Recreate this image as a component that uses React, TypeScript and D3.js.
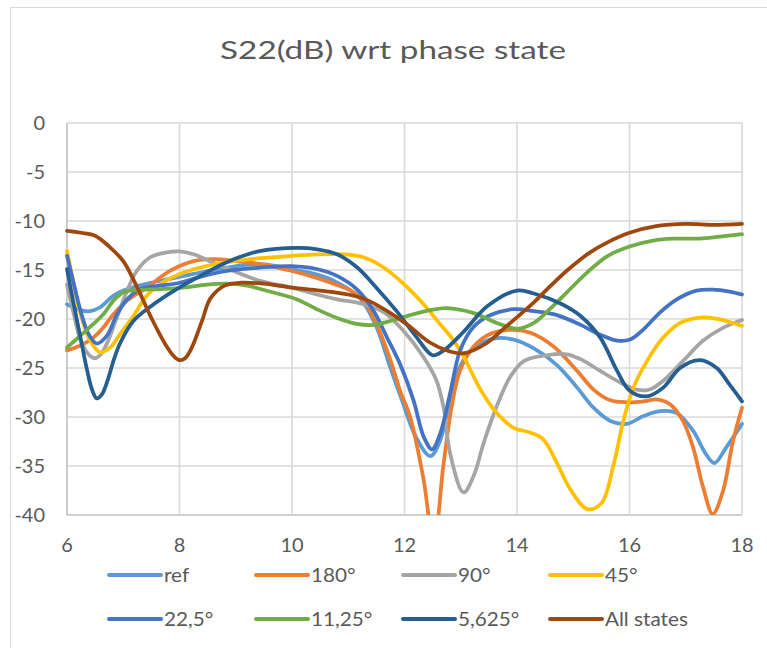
import React from "react";
import * as d3 from "d3";

type Pt = [number, number];

const seriesNames = ["ref", "180°", "90°", "45°", "22,5°", "11,25°", "5,625°", "All states"];
const seriesColors = ["#5B9BD5", "#ED7D31", "#A5A5A5", "#FFC000", "#4472C4", "#70AD47", "#255E91", "#9E480E"];

const refData: Pt[] = [
  [6.0, -18.5], [6.24, -19.1], [6.41, -19.2], [6.59, -18.8], [6.83, -17.6], [7.07, -16.95], [7.42, -16.4],
  [7.83, -15.9], [8.25, -15.4], [8.84, -14.75], [9.43, -14.4], [10.0, -14.9], [10.4, -15.4], [10.74, -16.1],
  [11.2, -17.8], [11.5, -20.8], [11.75, -25.0], [11.95, -28.2], [12.2, -32.0], [12.46, -34.0], [12.64, -32.3],
  [12.81, -28.2], [12.99, -24.8], [13.23, -23.0], [13.58, -22.0], [13.94, -22.1], [14.3, -23.0], [14.71, -24.7],
  [15.07, -27.0], [15.36, -29.05], [15.66, -30.4], [15.95, -30.7], [16.25, -29.9], [16.54, -29.4], [16.84, -29.6],
  [17.13, -31.4], [17.36, -33.8], [17.51, -34.7], [17.72, -33.1], [18.0, -30.7],
];

const deg180Data: Pt[] = [
  [6.0, -23.2], [6.24, -22.7], [6.47, -21.9], [6.65, -20.85], [6.83, -19.5], [7.07, -18.1], [7.42, -16.8],
  [7.83, -15.1], [8.25, -14.1], [8.6, -13.9], [9.02, -14.1], [9.43, -14.4], [10.0, -15.1], [10.44, -15.8],
  [10.74, -16.4], [11.04, -17.1], [11.27, -18.1], [11.5, -20.5], [11.75, -24.2], [11.92, -27.3], [12.1, -30.0],
  [12.34, -36.4], [12.52, -43], [12.69, -35.0], [12.84, -28.9], [12.99, -25.2], [13.23, -22.8], [13.53, -21.5],
  [13.94, -21.1], [14.24, -21.4], [14.65, -22.8], [15.07, -25.3], [15.36, -27.2], [15.66, -28.3], [15.95, -28.5],
  [16.25, -28.4], [16.48, -28.2], [16.72, -28.7], [16.95, -30.4], [17.13, -33.1], [17.31, -37.2], [17.48, -39.9],
  [17.66, -37.6], [17.84, -32.45], [18.0, -29.05],
];

const deg90Data: Pt[] = [
  [6.0, -16.5], [6.12, -19.5], [6.25, -22.3], [6.4, -23.7], [6.5, -24.0], [6.6, -23.6], [6.71, -22.5],
  [6.89, -19.8], [7.07, -17.1], [7.24, -15.1], [7.48, -13.7], [7.78, -13.2], [8.0, -13.1], [8.25, -13.4],
  [8.54, -14.1], [8.96, -15.1], [9.43, -16.1], [10.0, -16.8], [10.44, -17.5], [10.8, -18.0], [11.21, -18.4],
  [11.63, -19.3], [11.98, -21.2], [12.34, -23.9], [12.57, -26.3], [12.7, -29.2], [12.81, -33.7], [13.05, -37.7],
  [13.23, -36.0], [13.41, -32.6], [13.64, -28.9], [13.88, -25.9], [14.12, -24.3], [14.53, -23.7], [14.89, -23.6],
  [15.13, -24.1], [15.48, -25.3], [15.84, -26.5], [16.13, -27.2], [16.36, -27.2], [16.6, -26.3], [16.95, -24.3],
  [17.31, -22.2], [17.66, -20.9], [18.0, -20.1],
];

const deg45Data: Pt[] = [
  [6.0, -13.05], [6.12, -16.4], [6.24, -19.5], [6.41, -22.2], [6.59, -23.4], [6.77, -22.9], [6.95, -21.5],
  [7.18, -19.7], [7.42, -17.6], [7.66, -16.4], [8.01, -15.4], [8.37, -14.75], [8.84, -14.2], [9.43, -13.8],
  [10.0, -13.55], [10.44, -13.4], [10.92, -13.4], [11.27, -13.7], [11.63, -14.75], [11.98, -16.4], [12.34, -18.5],
  [12.63, -20.5], [12.85, -22.0], [13.05, -23.8], [13.35, -27.2], [13.64, -29.6], [13.94, -31.1], [14.24, -31.6],
  [14.47, -32.3], [14.71, -34.7], [14.95, -37.4], [15.25, -39.4], [15.5, -38.8], [15.72, -34.8], [15.89, -30.4],
  [16.07, -27.0], [16.31, -24.3], [16.6, -21.9], [16.9, -20.4], [17.19, -19.9], [17.48, -19.9], [17.78, -20.3],
  [18.0, -20.7],
];

const deg22Data: Pt[] = [
  [6.0, -13.55], [6.12, -16.4], [6.24, -19.15], [6.38, -21.5], [6.53, -22.5], [6.71, -21.7], [6.89, -19.5],
  [7.07, -18.0], [7.3, -16.95], [7.66, -16.6], [8.01, -16.3], [8.43, -15.6], [8.84, -15.1], [9.43, -14.75],
  [10.0, -14.6], [10.44, -14.9], [10.8, -15.6], [11.15, -16.95], [11.45, -19.15], [11.69, -21.9], [11.92, -24.6],
  [12.16, -28.3], [12.34, -32.0], [12.49, -33.3], [12.64, -31.6], [12.81, -27.6], [12.99, -23.2], [13.23, -20.8],
  [13.53, -19.6], [13.94, -19.0], [14.3, -19.2], [14.71, -19.6], [15.13, -20.6], [15.48, -21.6], [15.78, -22.2],
  [16.01, -22.1], [16.25, -21.05], [16.54, -19.35], [16.84, -18.0], [17.19, -17.1], [17.48, -17.0], [17.78, -17.2],
  [18.0, -17.5],
];

const deg11Data: Pt[] = [
  [6.0, -22.9], [6.24, -21.7], [6.47, -20.5], [6.65, -19.5], [6.83, -18.1], [7.0, -17.3], [7.24, -17.05],
  [7.66, -16.95], [8.07, -16.8], [8.49, -16.5], [8.84, -16.4], [9.2, -16.6], [9.6, -17.2], [10.09, -18.0],
  [10.44, -19.0], [10.8, -19.9], [11.15, -20.5], [11.45, -20.6], [11.75, -20.2], [12.1, -19.6], [12.46, -19.1],
  [12.75, -18.9], [13.23, -19.4], [13.64, -20.4], [14.0, -21.0], [14.3, -20.4], [14.6, -18.9], [14.9, -17.2],
  [15.24, -15.3], [15.6, -13.6], [16.0, -12.6], [16.42, -12.0], [16.78, -11.8], [17.25, -11.8], [17.6, -11.6],
  [18.0, -11.35],
];

const deg5Data: Pt[] = [
  [6.0, -14.9], [6.12, -18.5], [6.24, -21.9], [6.36, -25.3], [6.45, -27.3], [6.53, -28.1], [6.62, -27.7],
  [6.72, -26.3], [6.83, -24.2], [6.95, -22.4], [7.18, -20.2], [7.54, -18.5], [7.95, -16.95], [8.37, -15.6],
  [8.84, -14.2], [9.4, -13.1], [10.1, -12.75], [10.45, -12.9], [10.8, -13.4], [11.15, -14.7], [11.5, -16.8],
  [11.86, -19.2], [12.22, -21.9], [12.5, -23.7], [12.7, -23.2], [13.05, -21.3], [13.47, -18.7], [14.0, -17.1],
  [14.3, -17.4], [14.8, -18.5], [15.13, -19.7], [15.48, -21.9], [15.78, -25.3], [16.0, -27.3], [16.3, -27.9],
  [16.6, -27.0], [16.9, -25.0], [17.25, -24.2], [17.55, -25.0], [17.78, -26.7], [18.0, -28.4],
];

const allStatesData: Pt[] = [
  [6.0, -11.0], [6.25, -11.2], [6.5, -11.5], [6.75, -12.6], [7.0, -14.1], [7.25, -16.8], [7.5, -19.9],
  [7.75, -22.6], [7.9, -23.8], [8.0, -24.2], [8.1, -24.0], [8.22, -22.9], [8.4, -20.2], [8.55, -17.9],
  [8.8, -16.6], [9.1, -16.3], [9.5, -16.4], [10.0, -16.8], [10.5, -17.1], [11.0, -17.5], [11.35, -18.1],
  [11.75, -19.4], [12.1, -20.8], [12.45, -22.4], [12.8, -23.3], [13.05, -23.5], [13.45, -22.5], [13.8, -20.8],
  [14.3, -18.3], [14.6, -16.6], [14.9, -15.0], [15.3, -13.2], [15.6, -12.2], [16.0, -11.2], [16.5, -10.5],
  [17.0, -10.3], [17.5, -10.4], [18.0, -10.3],
];

const allSeries: Pt[][] = [refData, deg180Data, deg90Data, deg45Data, deg22Data, deg11Data, deg5Data, allStatesData];

const xTicks = [6, 8, 10, 12, 14, 16, 18];
const yTicks = [0, -5, -10, -15, -20, -25, -30, -35, -40];

const titleText = "S22(dB) wrt phase state";

export default function App() {
  const W = 767;
  const H = 648;
  const left = 67;
  const right = 742;
  const top = 123;
  const bottom = 515;

  const x = d3.scaleLinear().domain([6, 18]).range([left, right]);
  const y = d3.scaleLinear().domain([-40, 0]).range([bottom, top]);

  const line = d3
    .line<Pt>()
    .x((d) => x(d[0]))
    .y((d) => y(d[1]))
    .curve(d3.curveCatmullRom.alpha(0.5));

  const font = "Lato, 'Open Sans', sans-serif";
  const textColor = "#595959";

  const legendX = [109, 256, 403, 550];
  const legendY = [575, 619];
  const lineLen = 52;

  return (
    <svg
      width={W}
      height={H}
      style={{ position: "absolute", left: 0, top: 0, background: "#fff" }}
      fontFamily={font}
    >
      <rect x={0} y={0} width={W} height={H} fill="#fff" />
      <rect x={10.5} y={7.5} width={800} height={700} fill="#fff" stroke="#d9d9d9" strokeWidth={1} />
      <text transform="translate(393,59) scale(1.33,1)" textAnchor="middle" fontSize={25} fill={textColor}>
        {titleText}
      </text>
      <defs>
        <clipPath id="plotClip">
          <rect x={left - 2} y={top - 2} width={right - left + 4} height={bottom - top + 2} />
        </clipPath>
      </defs>
      {yTicks.map((t) => (
        <line key={"gy" + t} x1={left} x2={right} y1={y(t)} y2={y(t)} stroke={t === -40 ? "#bfbfbf" : "#d9d9d9"} strokeWidth={1.6} />
      ))}
      {xTicks.map((t) => (
        <line key={"gx" + t} x1={x(t)} x2={x(t)} y1={top} y2={bottom} stroke={t === 6 ? "#bfbfbf" : "#d9d9d9"} strokeWidth={1.6} />
      ))}
      {yTicks.map((t) => (
        <text key={"ty" + t} transform={`translate(45,${y(t) + 6.5}) scale(1.08,1)`} textAnchor="end" fontSize={18.5} fill={textColor}>
          {t}
        </text>
      ))}
      {xTicks.map((t) => (
        <text key={"tx" + t} transform={`translate(${x(t)},552) scale(1.08,1)`} textAnchor="middle" fontSize={18.5} fill={textColor}>
          {t}
        </text>
      ))}
      <g clipPath="url(#plotClip)">
        {allSeries.map((s, i) => (
          <path
            key={"s" + i}
            d={line(s) || ""}
            fill="none"
            stroke={seriesColors[i]}
            strokeWidth={3.75}
            strokeLinecap="round"
            strokeLinejoin="round"
          />
        ))}
      </g>
      {seriesNames.map((name, i) => {
        const row = Math.floor(i / 4);
        const col = i % 4;
        const lx = legendX[col];
        const ly = legendY[row];
        return (
          <g key={"lg" + i}>
            <line x1={lx} x2={lx + lineLen} y1={ly} y2={ly} stroke={seriesColors[i]} strokeWidth={4} strokeLinecap="round" />
            <text transform={`translate(${lx + lineLen + 3},${ly + 6.5}) scale(1.12,1)`} fontSize={18.5} fill={textColor}>
              {name}
            </text>
          </g>
        );
      })}
    </svg>
  );
}
